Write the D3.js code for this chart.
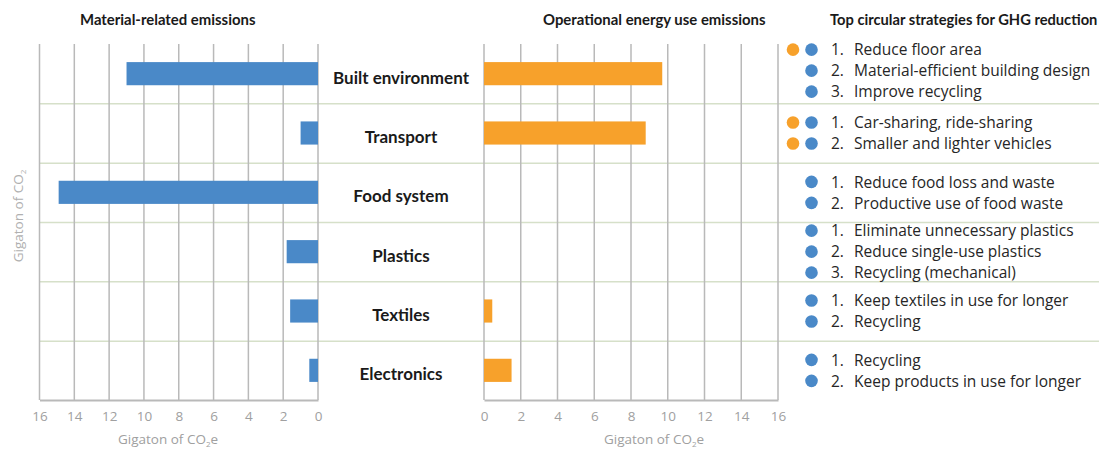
<!DOCTYPE html>
<html>
<head>
<meta charset="utf-8">
<script src="https://cdn.jsdelivr.net/npm/d3@7"></script>
<style>
  body { margin: 0; background: #fff; }
  svg { display: block; }
  .tick text { font-family: "Open Sans", sans-serif; font-size: 13.5px; fill: #a0a0a0; }
</style>
</head>
<body>
<svg width="1102" height="450"></svg>
<script>
// sectors, top to bottom
var sectors = ["Built environment", "Transport", "Food system", "Plastics", "Textiles", "Electronics"];
// Gt CO2e
var materialEmissions = [11.0, 1.0, 14.9, 1.8, 1.6, 0.5];
var operationalEmissions = [9.7, 8.8, 0, 0, 0.45, 1.5];
var axisTicks = [0, 2, 4, 6, 8, 10, 12, 14, 16];

// strategies: sector index, number, text, whether it also cuts operational emissions
var strategySector = [0, 0, 0, 1, 1, 2, 2, 3, 3, 3, 4, 4, 5, 5];
var strategyNum = [1, 2, 3, 1, 2, 1, 2, 1, 2, 3, 1, 2, 1, 2];
var strategyText = [
  "Reduce floor area", "Material-efficient building design", "Improve recycling",
  "Car-sharing, ride-sharing", "Smaller and lighter vehicles",
  "Reduce food loss and waste", "Productive use of food waste",
  "Eliminate unnecessary plastics", "Reduce single-use plastics", "Recycling (mechanical)",
  "Keep textiles in use for longer", "Recycling",
  "Recycling", "Keep products in use for longer"
];
var strategyOps = [true, false, false, true, true, false, false, false, false, false, false, false, false, false];

var blue = "#4a89c8", orange = "#f7a12b";
var gridColor = "#b9b9b9", sepColor = "#d6e0c9";
var svg = d3.select("svg");

var plotTop = 44, plotBottom = 400;
var y = d3.scaleBand().domain(sectors).range([plotTop, plotBottom]).paddingInner(0.61).paddingOuter(0.305);
var rowY = d3.scaleBand().domain(sectors).range([plotTop, plotBottom]);

var xL = d3.scaleLinear().domain([16, 0]).range([39.5, 318]);
var xR = d3.scaleLinear().domain([0, 16]).range([484, 778]);

// row separators
svg.append("g").selectAll("line")
  .data(sectors.slice(1))
  .join("line")
  .attr("x1", 39).attr("x2", 1099)
  .attr("y1", function(d){ return rowY(d) + 0.5; })
  .attr("y2", function(d){ return rowY(d) + 0.5; })
  .attr("stroke", sepColor).attr("stroke-width", 1.5);

function drawPanel(x, values, color, title, titleX, labelX) {
  var g = svg.append("g");
  g.selectAll(".grid").data(axisTicks).join("line")
    .attr("class", "grid")
    .attr("x1", function(d){ return x(d); }).attr("x2", function(d){ return x(d); })
    .attr("y1", plotTop).attr("y2", plotBottom)
    .attr("stroke", gridColor).attr("stroke-width", 1.5);

  g.selectAll(".bar").data(values).join("rect")
    .attr("class", "bar")
    .attr("x", function(d){ return Math.min(x(0), x(d)); })
    .attr("width", function(d){ return Math.abs(x(d) - x(0)); })
    .attr("y", function(d, i){ return y(sectors[i]); })
    .attr("height", y.bandwidth())
    .attr("fill", color);

  var ax = g.append("g").attr("transform", "translate(0," + plotBottom + ")")
    .call(d3.axisBottom(x).tickValues(axisTicks).tickSize(0).tickPadding(11));
  ax.select(".domain").attr("stroke", gridColor).attr("stroke-width", 2);

  var t = g.append("text")
    .attr("x", labelX).attr("y", 444)
    .attr("text-anchor", "middle")
    .attr("font-family", "Open Sans, sans-serif").attr("font-size", 13.5)
    .attr("fill", "#a0a0a0")
    .text("Gigaton of CO");
  t.append("tspan").attr("font-size", 8).attr("dy", 3).text("2");
  t.append("tspan").attr("dy", -3).text("e");

  g.append("text")
    .attr("x", titleX).attr("y", 25)
    .attr("font-family", "Lato, sans-serif").attr("font-weight", "bold").attr("font-size", 14.9)
    .attr("fill", "#1a1a1a")
    .text(title);
}

drawPanel(xL, materialEmissions, blue, "Material-related emissions", 80, 168);
drawPanel(xR, operationalEmissions, orange, "Operational energy use emissions", 543, 654);

// y axis title
var yt = svg.append("text")
  .attr("transform", "translate(23,216) rotate(-90)")
  .attr("text-anchor", "middle")
  .attr("font-family", "Open Sans, sans-serif").attr("font-size", 13.5)
  .attr("fill", "#b0b0b0")
  .text("Gigaton of CO");
yt.append("tspan").attr("font-size", 8).attr("dy", 3).text("2");

// sector labels in the middle
svg.append("g").selectAll("text")
  .data(sectors).join("text")
  .attr("x", 401)
  .attr("y", function(d){ return rowY(d) + rowY.bandwidth() / 2 + 10; })
  .attr("text-anchor", "middle")
  .attr("font-family", "Lato, sans-serif").attr("font-weight", "bold").attr("font-size", 17)
  .attr("fill", "#1a1a1a")
  .text(function(d){ return d; });

// strategies panel
svg.append("text")
  .attr("x", 830).attr("y", 25)
  .attr("font-family", "Lato, sans-serif").attr("font-weight", "bold").attr("font-size", 14.7)
  .attr("fill", "#1a1a1a")
  .text("Top circular strategies for GHG reduction");

var lineStep = 21;
var counts = sectors.map(function(s, i){ return strategySector.filter(function(k){ return k === i; }).length; });
var items = strategyText.map(function(t, i){
  var s = strategySector[i];
  var cy = rowY(sectors[s]) + rowY.bandwidth() / 2 + (strategyNum[i] - 1 - (counts[s] - 1) / 2) * lineStep;
  if (s === 0) cy -= 3;
  return { text: t, num: strategyNum[i], ops: strategyOps[i], cy: cy };
});

var sg = svg.append("g").selectAll("g").data(items).join("g")
  .attr("transform", function(d){ return "translate(0," + d.cy + ")"; });
sg.filter(function(d){ return d.ops; }).append("circle")
  .attr("cx", 793).attr("r", 6.3).attr("fill", orange);
sg.append("circle").attr("cx", 811.5).attr("r", 6.3).attr("fill", blue);
sg.append("text").attr("x", 831).attr("y", 5.8)
  .attr("font-family", "Open Sans, sans-serif").attr("font-size", 15.5).attr("fill", "#262626")
  .text(function(d){ return d.num + "."; });
sg.append("text").attr("x", 854).attr("y", 5.8)
  .attr("font-family", "Open Sans, sans-serif").attr("font-size", 15.5).attr("fill", "#262626")
  .text(function(d){ return d.text; });
</script>
</body>
</html>
